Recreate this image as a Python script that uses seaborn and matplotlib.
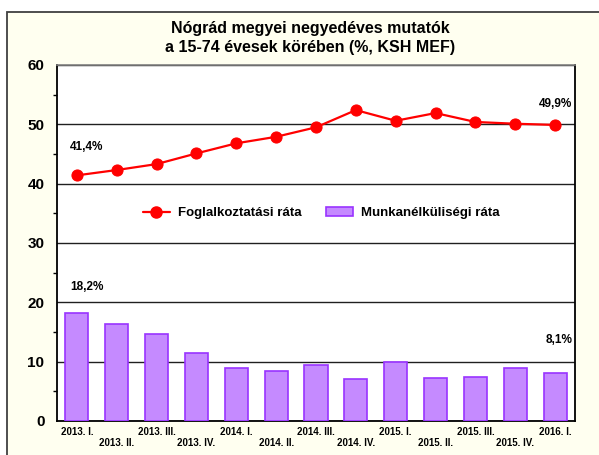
import matplotlib
matplotlib.use("Agg")
import matplotlib.pyplot as plt
from matplotlib.patches import Rectangle, Patch
from matplotlib.lines import Line2D
from matplotlib.ticker import MultipleLocator
import numpy as np
import pandas as pd
import seaborn as sns

# quarters and the two rates (%)
quarters = ["2013. I.", "2013. II.", "2013. III.", "2013. IV.",
            "2014. I.", "2014. II.", "2014. III.", "2014. IV.",
            "2015. I.", "2015. II.", "2015. III.", "2015. IV.", "2016. I."]
employment = [41.4, 42.3, 43.3, 45.1, 46.8, 47.9, 49.5, 52.4, 50.6, 51.9, 50.4, 50.1, 49.9]
unemployment = [18.2, 16.3, 14.7, 11.4, 8.9, 8.5, 9.4, 7.1, 10.0, 7.2, 7.5, 9.0, 8.1]

df = pd.DataFrame({"negyedev": quarters,
                   "foglalkoztatas": employment,
                   "munkanelkuliseg": unemployment})
df["pos"] = np.arange(len(df))

sns.set_style("white")
plt.rcParams["font.family"] = ["Liberation Sans", "DejaVu Sans"]
plt.rcParams["font.weight"] = "bold"
plt.rcParams["text.color"] = "black"
plt.rcParams["xtick.color"] = "black"
plt.rcParams["ytick.color"] = "black"

fig = plt.figure(figsize=(5.99, 4.55), dpi=100, facecolor="white")
# cream chart frame, kept behind the axes
frame = Rectangle((7 / 599, -0.01), 1.0, (455 - 12) / 455 + 0.01,
                  transform=fig.transFigure, facecolor="#FFFFF0",
                  edgecolor="#404040", linewidth=1.3, zorder=-10)
fig.patches.append(frame)
ax = fig.add_axes([57 / 599, 34 / 455, (575 - 57) / 599, (421 - 65) / 455])
ax.set_facecolor("white")

bar_fill = "#C58AFF"
bar_edge = "#9933FF"
sns.barplot(data=df, x="pos", y="munkanelkuliseg", color=bar_fill, width=0.58,
            edgecolor=bar_edge, linewidth=1.2, saturation=1, native_scale=True, ax=ax, zorder=3)
sns.lineplot(data=df, x="pos", y="foglalkoztatas", color="#FF0000", linewidth=1.6,
             marker="o", markersize=8, markeredgecolor="#FF0000", ax=ax, zorder=4)

ax.set_xlim(-0.5, len(quarters) - 0.5)
ax.set_ylim(0, 60)
ax.yaxis.set_major_locator(MultipleLocator(10))
ax.yaxis.set_minor_locator(MultipleLocator(5))
ax.grid(axis="y", which="major", color="#202020", linewidth=1.0, zorder=1)
ax.set_axisbelow(True)

labels = [q if i % 2 == 0 else "\n" + q for i, q in enumerate(quarters)]
ax.set_xticks(df["pos"])
ax.set_xticklabels(labels, fontsize=7, fontweight="bold", color="black")
ax.set_xticks(np.arange(-0.5, len(quarters)), minor=True)
ax.tick_params(axis="x", which="major", length=0, pad=4)
ax.tick_params(axis="x", which="minor", length=8, direction="inout", width=1, color="black")
ax.tick_params(axis="y", which="major", length=6, direction="out", width=1, color="black",
               labelsize=11, pad=3, labelcolor="black")
ax.tick_params(axis="y", which="minor", length=3, direction="out", width=1, color="black", left=True)
for t in ax.get_yticklabels():
    t.set_fontweight("bold")
ax.set_xlabel("")
ax.set_ylabel("")

for side in ["left", "bottom", "right"]:
    ax.spines[side].set_visible(True)
    ax.spines[side].set_color("black")
    ax.spines[side].set_linewidth(1.3)
ax.spines["top"].set_color("#808080")
ax.spines["top"].set_linewidth(1.2)

# value labels
ax.text(0.25, employment[0] + 4.3, "41,4%", fontsize=8.5, fontweight="bold", ha="center")
ax.text(12.0, employment[-1] + 3.1, "49,9%", fontsize=8.5, fontweight="bold", ha="center")
ax.text(0.25, unemployment[0] + 3.9, "18,2%", fontsize=8.5, fontweight="bold", ha="center")
ax.text(12.1, unemployment[-1] + 5.0, "8,1%", fontsize=8.5, fontweight="bold", ha="center")

handles = [Line2D([0], [0], color="#FF0000", linewidth=1.6, marker="o", markersize=8),
           Patch(facecolor=bar_fill, edgecolor=bar_edge, linewidth=1.2)]
ax.legend(handles, ["Foglalkoztatási ráta", "Munkanélküliségi ráta"], ncol=2,
          loc="center", bbox_to_anchor=(0.51, 0.584), frameon=False,
          prop={"size": 9.5, "weight": "bold"}, columnspacing=1.9, handletextpad=0.6)

fig.text(310 / 599, 1 - 38 / 455, "Nógrád megyei negyedéves mutatók\na 15-74 évesek körében (%, KSH MEF)",
         ha="center", va="center", fontsize=11.5, fontweight="bold", linespacing=1.35)

fig.savefig("out.png", dpi=100, facecolor=fig.get_facecolor())
